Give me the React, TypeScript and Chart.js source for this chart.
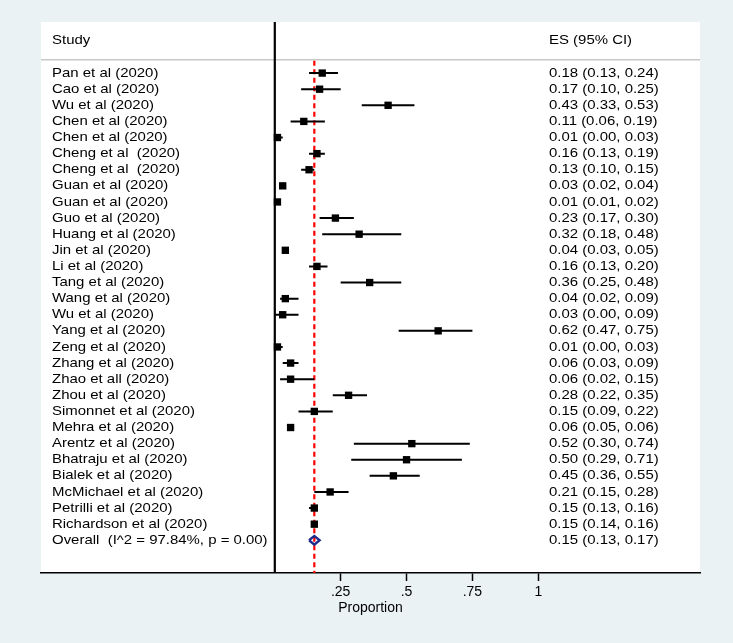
import React, { useEffect, useRef } from 'react';
import { Chart, registerables } from 'chart.js';

Chart.register(...registerables);

const studies = [
  'Pan et al (2020)', 'Cao et al (2020)', 'Wu et al (2020)', 'Chen et al (2020)', 'Chen et al (2020)',
  'Cheng et al  (2020)', 'Cheng et al  (2020)', 'Guan et al (2020)', 'Guan et al (2020)', 'Guo et al (2020)',
  'Huang et al (2020)', 'Jin et al (2020)', 'Li et al (2020)', 'Tang et al (2020)', 'Wang et al (2020)',
  'Wu et al (2020)', 'Yang et al (2020)', 'Zeng et al (2020)', 'Zhang et al (2020)', 'Zhao et all (2020)',
  'Zhou et al (2020)', 'Simonnet et al (2020)', 'Mehra et al (2020)', 'Arentz et al (2020)', 'Bhatraju et al (2020)',
  'Bialek et al (2020)', 'McMichael et al (2020)', 'Petrilli et al (2020)', 'Richardson et al (2020)',
];
const es = [0.18, 0.17, 0.43, 0.11, 0.01, 0.16, 0.13, 0.03, 0.01, 0.23, 0.32, 0.04, 0.16, 0.36, 0.04, 0.03, 0.62, 0.01, 0.06, 0.06, 0.28, 0.15, 0.06, 0.52, 0.50, 0.45, 0.21, 0.15, 0.15];
const lo = [0.13, 0.10, 0.33, 0.06, 0.00, 0.13, 0.10, 0.02, 0.01, 0.17, 0.18, 0.03, 0.13, 0.25, 0.02, 0.00, 0.47, 0.00, 0.03, 0.02, 0.22, 0.09, 0.05, 0.30, 0.29, 0.36, 0.15, 0.13, 0.14];
const hi = [0.24, 0.25, 0.53, 0.19, 0.03, 0.19, 0.15, 0.04, 0.02, 0.30, 0.48, 0.05, 0.20, 0.48, 0.09, 0.09, 0.75, 0.03, 0.09, 0.15, 0.35, 0.22, 0.06, 0.74, 0.71, 0.55, 0.28, 0.16, 0.16];

const overallLabel = 'Overall  (I^2 = 97.84%, p = 0.00)';
const overallES = 0.15;
const overallLo = 0.13;
const overallHi = 0.17;

const xTicks = [0.25, 0.5, 0.75, 1];
const xTickLabels = ['.25', '.5', '.75', '1'];
const headerStudy = 'Study';
const headerES = 'ES (95% CI)';
const xTitle = 'Proportion';

const FONT = '"Liberation Sans", Arial, sans-serif';
const SX = 1.15;

function fmt(v: number) {
  return v.toFixed(2);
}

export default function App() {
  const ref = useRef<HTMLCanvasElement | null>(null);

  useEffect(() => {
    const canvas = ref.current;
    if (!canvas) return;
    const nStudies = studies.length;
    const overallRow = nStudies;

    const ciData: any[] = [];
    for (let i = 0; i < nStudies; i++) {
      ciData.push({ x: lo[i], y: i });
      ciData.push({ x: hi[i], y: i });
      ciData.push({ x: (lo[i] + hi[i]) / 2, y: null });
    }
    const pointData = es.map((v, i) => ({ x: v, y: i }));
    const dh = 0.27;
    const diamondData = [
      { x: overallLo, y: overallRow },
      { x: overallES, y: overallRow - dh },
      { x: overallHi, y: overallRow },
      { x: overallES, y: overallRow + dh },
      { x: overallLo, y: overallRow },
    ];

    const drawText = (ctx: CanvasRenderingContext2D, text: string, x: number, y: number) => {
      ctx.save();
      ctx.translate(x, y);
      ctx.scale(SX, 1);
      ctx.textAlign = 'left';
      ctx.textBaseline = 'middle';
      ctx.fillText(text, 0, 0);
      ctx.restore();
    };

    const forestPlugin = {
      id: 'forest',
      beforeDraw(chart: any) {
        const { ctx, chartArea: ca } = chart;
        ctx.save();
        ctx.fillStyle = '#eaf2f3';
        ctx.fillRect(0, 0, chart.width, chart.height);
        ctx.fillStyle = '#ffffff';
        ctx.fillRect(ca.left, ca.top, ca.right - ca.left, ca.bottom - ca.top);
        ctx.restore();
      },
      beforeDatasetsDraw(chart: any) {
        const { ctx, chartArea: ca, scales } = chart;
        const x = scales.x;
        const y = scales.y;
        ctx.save();
        const sepY = y.getPixelForValue(-0.82);
        ctx.strokeStyle = '#c8c8c8';
        ctx.lineWidth = 1.5;
        ctx.beginPath();
        ctx.moveTo(ca.left, sepY);
        ctx.lineTo(ca.right, sepY);
        ctx.stroke();
        const x0 = x.getPixelForValue(0);
        ctx.strokeStyle = '#000';
        ctx.lineWidth = 2.2;
        ctx.beginPath();
        ctx.moveTo(x0, ca.top);
        ctx.lineTo(x0, ca.bottom);
        ctx.stroke();
        const xo = x.getPixelForValue(overallES);
        ctx.strokeStyle = '#ff0000';
        ctx.lineWidth = 2.2;
        ctx.setLineDash([5, 3.5]);
        ctx.beginPath();
        ctx.moveTo(xo, sepY + 1);
        ctx.lineTo(xo, ca.bottom);
        ctx.stroke();
        ctx.restore();
      },
      afterDraw(chart: any) {
        const { ctx, chartArea: ca, scales } = chart;
        const y = scales.y;
        ctx.save();
        ctx.fillStyle = '#000';
        ctx.font = `13px ${FONT}`;
        const labelX = ca.left + 11;
        const esX = ca.left + 508;
        drawText(ctx, headerStudy, labelX, y.getPixelForValue(-2));
        drawText(ctx, headerES, esX, y.getPixelForValue(-2));
        for (let i = 0; i < studies.length; i++) {
          const py = y.getPixelForValue(i);
          drawText(ctx, studies[i], labelX, py);
          drawText(ctx, `${fmt(es[i])} (${fmt(lo[i])}, ${fmt(hi[i])})`, esX, py);
        }
        const po = y.getPixelForValue(studies.length);
        drawText(ctx, overallLabel, labelX, po);
        drawText(ctx, `${fmt(overallES)} (${fmt(overallLo)}, ${fmt(overallHi)})`, esX, po);
        ctx.restore();
      },
    };

    const chart = new Chart(canvas, {
      type: 'scatter',
      data: {
        datasets: [
          {
            type: 'line',
            data: ciData,
            borderColor: '#000',
            borderWidth: 2,
            pointRadius: 0,
            spanGaps: false,
            fill: false,
            tension: 0,
          } as any,
          {
            type: 'scatter',
            data: pointData,
            pointStyle: 'rect',
            pointRadius: 5.2,
            backgroundColor: '#000',
            borderWidth: 0,
          } as any,
          {
            type: 'line',
            data: diamondData,
            borderColor: '#1c2c8c',
            borderWidth: 2.4,
            pointRadius: 0,
            fill: false,
            tension: 0,
          } as any,
        ],
      },
      options: {
        responsive: false,
        animation: false,
        events: [],
        layout: { padding: { left: 41, right: 33, top: 22, bottom: 26.4 } },
        plugins: { legend: { display: false }, tooltip: { enabled: false } },
        scales: {
          x: {
            type: 'linear',
            min: -0.8873,
            max: 1.6137,
            afterBuildTicks: (scale: any) => {
              scale.ticks = xTicks.map((v) => ({ value: v }));
            },
            ticks: {
              autoSkip: false,
              maxRotation: 0,
              padding: 3,
              color: '#000',
              font: { family: FONT, size: 14 },
              callback: (v: any) => {
                const idx = xTicks.indexOf(Number(v));
                return idx >= 0 ? xTickLabels[idx] : '';
              },
            },
            grid: {
              display: true,
              drawOnChartArea: false,
              drawTicks: true,
              tickLength: 8,
              tickWidth: 1.5,
              tickColor: '#000',
            },
            border: { display: true, color: '#000', width: 1.5 },
            title: {
              display: true,
              text: xTitle,
              color: '#000',
              font: { family: FONT, size: 14 },
              padding: { top: -4, bottom: 0 },
            },
          },
          y: {
            type: 'linear',
            display: false,
            reverse: true,
            min: -3.17,
            max: 31.03,
          },
        },
      },
      plugins: [forestPlugin],
    } as any);

    return () => chart.destroy();
  }, []);

  return (
    <div style={{ position: 'fixed', left: 0, top: 0, width: 733, height: 643, background: '#eaf2f3' }}>
      <canvas ref={ref} width={733} height={643} style={{ width: 733, height: 643, display: 'block' }} />
    </div>
  );
}
